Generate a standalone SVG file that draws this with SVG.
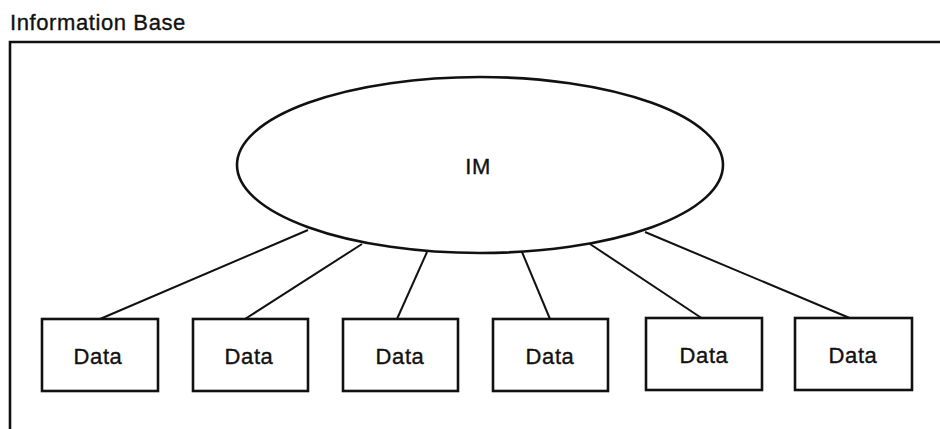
<svg xmlns="http://www.w3.org/2000/svg" width="940" height="429" viewBox="0 0 940 429">
  <style>
    .lbl { font-family: "Liberation Sans", Arial, sans-serif; font-size: 22px; letter-spacing: 0.6px; fill: #111; stroke: #111; stroke-width: 0.35; }
    .box { fill: #fff; stroke: #111; stroke-width: 2.6; }
    .link { stroke: #111; stroke-width: 2; fill: none; }
    .frame { stroke: #111; stroke-width: 2.6; fill: none; }
  </style>
  <rect width="940" height="429" fill="#fff"/>

  <!-- outer frame: title, top rule and left rule -->
  <g id="frame">
    <text class="lbl" x="10" y="30">Information Base</text>
    <path class="frame" d="M10,429 V42 H940"/>
  </g>

  <!-- lines from the central node to each data box -->
  <g id="connectors">
    <line class="link" x1="308" y1="230" x2="100" y2="319"/>
    <line class="link" x1="362" y1="244" x2="245" y2="319"/>
    <line class="link" x1="427" y1="252" x2="397" y2="319"/>
    <line class="link" x1="522" y1="252" x2="550" y2="319"/>
    <line class="link" x1="590" y1="244" x2="703" y2="319"/>
    <line class="link" x1="645" y1="232" x2="852" y2="319"/>
  </g>

  <g id="im">
    <ellipse cx="480" cy="165" rx="243" ry="88" fill="#fff" stroke="#111" stroke-width="2.6"/>
    <text class="lbl" x="478" y="174" text-anchor="middle">IM</text>
  </g>

  <g id="data1">
    <rect class="box" x="42" y="319" width="116" height="72"/>
    <text class="lbl" x="98" y="364" text-anchor="middle">Data</text>
  </g>
  <g id="data2">
    <rect class="box" x="193" y="319" width="115" height="72"/>
    <text class="lbl" x="249" y="364" text-anchor="middle">Data</text>
  </g>
  <g id="data3">
    <rect class="box" x="343" y="319" width="115" height="72"/>
    <text class="lbl" x="400" y="364" text-anchor="middle">Data</text>
  </g>
  <g id="data4">
    <rect class="box" x="493" y="319" width="115" height="72"/>
    <text class="lbl" x="550" y="364" text-anchor="middle">Data</text>
  </g>
  <g id="data5">
    <rect class="box" x="646" y="318" width="116" height="72"/>
    <text class="lbl" x="704" y="363" text-anchor="middle">Data</text>
  </g>
  <g id="data6">
    <rect class="box" x="795" y="318" width="117" height="72"/>
    <text class="lbl" x="853" y="363" text-anchor="middle">Data</text>
  </g>
</svg>
